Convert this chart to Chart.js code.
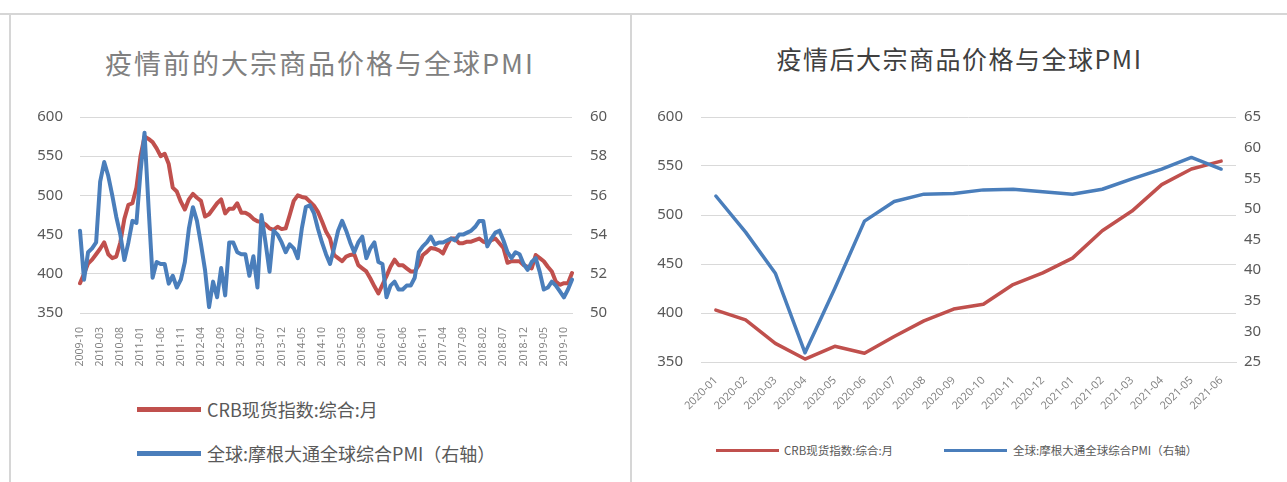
<!DOCTYPE html>
<html>
<head>
<meta charset="utf-8">
<script src="https://cdn.jsdelivr.net/npm/chart.js@4.4.1/dist/chart.umd.min.js"></script>
<style>
  body { margin: 0; background: #fff; width: 1287px; height: 482px; overflow: hidden; position: relative;
         font-family: "Noto Sans CJK SC", "Noto Sans", sans-serif; }
  .line-h { position: absolute; left: 0; top: 13px; width: 1287px; height: 2px; background: #d6d6d6; }
  .line-v { position: absolute; top: 14px; width: 2px; height: 468px; background: #d6d6d6; }
  .title { position: absolute; white-space: nowrap; text-align: center; }
  canvas { position: absolute; }
  .legend { position: absolute; display: flex; align-items: center; white-space: nowrap; color: #595959; }
  .legend i { display: inline-block; }
</style>
</head>
<body>
<div class="line-h"></div>
<div class="line-v" style="left:9px"></div>
<div class="line-v" style="left:630px"></div>

<div class="title" style="left:10px;width:620px;top:43px;font-size:27px;letter-spacing:2px;color:#808080">疫情前的大宗商品价格与全球PMI</div>
<div class="title" style="left:632px;width:655px;top:40px;font-size:25px;letter-spacing:1.5px;color:#404040">疫情后大宗商品价格与全球PMI</div>

<canvas id="before" width="620" height="300" style="left:10px;top:90px"></canvas>
<canvas id="after" width="655" height="330" style="left:632px;top:90px"></canvas>

<div class="legend" style="left:137px;top:396px;font-size:18px"><i style="width:64px;height:5px;background:#c0504d;margin-right:6px"></i>CRB现货指数:综合:月</div>
<div class="legend" style="left:137px;top:440px;font-size:18px"><i style="width:64px;height:5px;background:#4a7ebb;margin-right:6px"></i>全球:摩根大通全球综合PMI（右轴）</div>

<div class="legend" style="left:716px;top:442px;font-size:11.5px"><i style="width:63px;height:3px;background:#c0504d;margin-right:5px"></i>CRB现货指数:综合:月</div>
<div class="legend" style="left:944px;top:442px;font-size:11.5px"><i style="width:63px;height:3px;background:#4a7ebb;margin-right:6px"></i>全球:摩根大通全球综合PMI（右轴）</div>

<script>
// pre-covid: monthly 2009-10 .. 2019-12
const beforeStart = [2009, 10]
const beforeEnd = [2019, 12]

const crbBefore = [
  388, 400, 413, 418, 425, 432, 440, 425, 420, 422,
  440, 470, 488, 490, 510, 550, 575, 572, 568, 560,
  550, 553, 540, 510, 505, 492, 482, 495, 502, 497,
  493, 473, 476, 483, 490, 495, 477, 483, 483, 490,
  478, 478, 475, 470, 467, 466, 463, 458, 456, 460,
  457, 458, 475, 493, 500, 498, 497, 492, 487, 479,
  467, 454, 445, 424, 420, 416, 422, 424, 425, 411,
  407, 403, 394, 384, 375, 386, 397, 409, 418, 411,
  411, 407, 403, 403, 411, 424, 428, 433, 432, 430,
  426, 437, 445, 445, 439, 439, 441, 441, 443, 445,
  441, 439, 443, 445, 439, 433, 414, 416, 416, 416,
  411, 409, 407, 424, 420, 416, 409, 403, 390, 386,
  388, 388, 401
]

const pmiBefore = [
  54.2, 51.7, 53.1, 53.3, 53.6, 56.7, 57.7, 57.0, 56.0, 54.9,
  54.0, 52.7, 53.6, 54.7, 54.6, 57.2, 59.2, 55.4, 51.8, 52.6,
  52.5, 52.5, 51.5, 51.9, 51.3, 51.7, 52.6, 54.3, 55.4, 54.7,
  53.5, 52.2, 50.3, 51.6, 50.8, 52.3, 50.9, 53.6, 53.6, 53.1,
  53.0, 53.0, 51.9, 52.9, 51.3, 55.0, 53.6, 52.1, 54.2, 54.0,
  53.6, 53.1, 53.5, 53.3, 52.8, 54.3, 55.4, 55.5, 55.1, 54.3,
  53.6, 53.0, 52.5, 53.3, 54.2, 54.7, 54.2, 53.6, 53.1, 53.6,
  53.9, 52.8, 53.3, 53.6, 52.6, 52.5, 50.8, 51.4, 51.6, 51.2,
  51.2, 51.4, 51.4, 51.8, 53.1, 53.4, 53.6, 53.9, 53.5, 53.6,
  53.6, 53.7, 53.8, 53.7, 54.0, 54.0, 54.1, 54.2, 54.4, 54.7,
  54.7, 53.4, 53.8, 54.1, 54.2, 53.7, 53.1, 52.8, 53.1, 53.0,
  52.5, 52.2, 52.6, 52.8, 52.1, 51.2, 51.3, 51.6, 51.4, 51.1,
  50.8, 51.2, 51.7
]

// post-covid: 2020-01 .. 2021-06
const monthsAfter = ['2020-01', '2020-02', '2020-03', '2020-04', '2020-05', '2020-06',
  '2020-07', '2020-08', '2020-09', '2020-10', '2020-11', '2020-12',
  '2021-01', '2021-02', '2021-03', '2021-04', '2021-05', '2021-06']
const crbAfter = [403, 393, 369, 353, 366, 359, 376, 392, 404, 409, 429, 441, 456, 484, 504, 531, 547, 555]
const pmiAfter = [52.1, 46.2, 39.5, 26.5, 37.0, 48.0, 51.2, 52.4, 52.5, 53.1, 53.2, 52.8, 52.4, 53.2, 54.9, 56.5, 58.4, 56.5]

const RED = '#c0504d'
const BLUE = '#4a7ebb'
const GRID = '#d9d9d9'
const TICK = '#595959'
const numFont = { family: '"Noto Sans", "Noto Sans CJK SC", sans-serif', size: 15 }
const dateFont = { family: '"Open Sans", "Noto Sans", sans-serif', size: 11 }

function monthRange(from, to) {
  const out = []
  let [y, m] = from
  while (y < to[0] || (y === to[0] && m <= to[1])) {
    out.push(`${y}-${String(m).padStart(2, '0')}`)
    m++
    if (m > 12) { m = 1; y++ }
  }
  return out
}
const monthsBefore = monthRange(beforeStart, beforeEnd)

function lineSet(label, data, color, width, axis, order) {
  return { label, data, borderColor: color, backgroundColor: color, borderWidth: width,
    pointRadius: 0, tension: 0, yAxisID: axis, order, borderJoinStyle: 'round', borderCapStyle: 'round' }
}

new Chart(document.getElementById('before'), {
  type: 'line',
  data: {
    labels: monthsBefore,
    datasets: [
      lineSet('CRB现货指数:综合:月', crbBefore, RED, 4, 'y', 1),
      lineSet('全球:摩根大通全球综合PMI（右轴）', pmiBefore, BLUE, 4, 'y1', 0)
    ]
  },
  options: {
    responsive: false, animation: false, devicePixelRatio: 1,
    layout: { padding: { top: 27, left: 0, right: 0, bottom: 0 } },
    plugins: { legend: { display: false }, tooltip: { enabled: false } },
    scales: {
      x: {
        offset: false,
        grid: { display: false },
        border: { color: GRID },
        ticks: {
          autoSkip: false, minRotation: 90, maxRotation: 90, padding: 6,
          font: { ...dateFont, size: 10.5 }, color: '#7f7f7f',
          callback(v, i) { return i % 5 === 0 ? this.getLabelForValue(v) : '' }
        },
        afterFit(s) { s.height = 77 }
      },
      y: {
        position: 'left', min: 350, max: 600,
        ticks: { stepSize: 50, font: numFont, color: TICK, padding: 17 },
        grid: { color: GRID, drawTicks: false },
        border: { display: false },
        afterFit(s) { s.width = 70 }
      },
      y1: {
        position: 'right', min: 50, max: 60,
        ticks: { stepSize: 2, font: numFont, color: TICK, padding: 18 },
        grid: { display: false, drawTicks: false },
        border: { display: false },
        afterFit(s) { s.width = 58 }
      }
    }
  }
})

new Chart(document.getElementById('after'), {
  type: 'line',
  data: {
    labels: monthsAfter,
    datasets: [
      lineSet('CRB现货指数:综合:月', crbAfter, RED, 3.5, 'y', 1),
      lineSet('全球:摩根大通全球综合PMI（右轴）', pmiAfter, BLUE, 3.5, 'y1', 0)
    ]
  },
  options: {
    responsive: false, animation: false, devicePixelRatio: 1,
    layout: { padding: { top: 23, left: 0, right: 0, bottom: 0 } },
    plugins: { legend: { display: false }, tooltip: { enabled: false } },
    scales: {
      x: {
        offset: true,
        grid: { display: false },
        border: { color: GRID },
        ticks: { autoSkip: false, minRotation: 45, maxRotation: 45, padding: 4, font: dateFont, color: '#7f7f7f' },
        afterFit(s) { s.height = 58 }
      },
      y: {
        position: 'left', min: 350, max: 600,
        ticks: { stepSize: 50, font: numFont, color: TICK, padding: 18 },
        grid: { color: GRID, drawTicks: false },
        border: { display: false },
        afterFit(s) { s.width = 69 }
      },
      y1: {
        position: 'right', min: 25, max: 65,
        ticks: { stepSize: 5, font: numFont, color: TICK, padding: 8 },
        grid: { display: false, drawTicks: false },
        border: { display: false },
        afterFit(s) { s.width = 51 }
      }
    }
  }
})
</script>
</body>
</html>
